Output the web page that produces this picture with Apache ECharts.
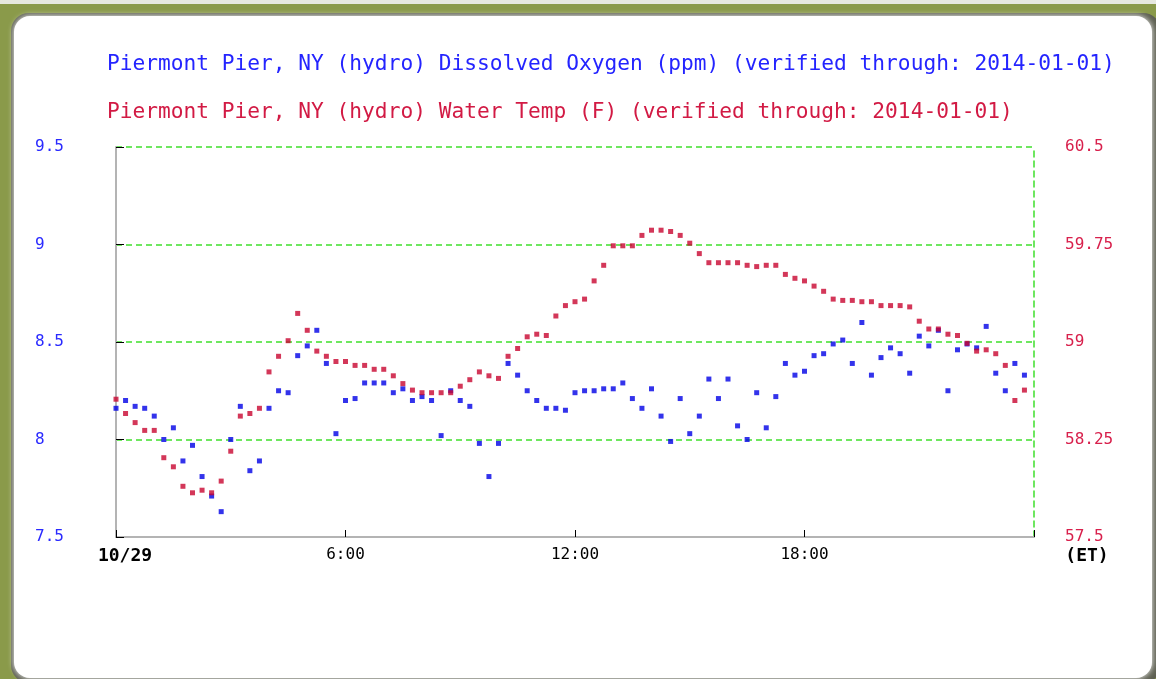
<!DOCTYPE html>
<html>
<head>
<meta charset="utf-8">
<script src="https://cdn.jsdelivr.net/npm/echarts@6/dist/echarts.min.js"></script>
<style>
html,body{margin:0;padding:0;background:#8a9a4a;}
#chart{width:1156px;height:679px;}
</style>
</head>
<body>
<div id="chart"></div>
<script>
const titleDO = 'Piermont Pier, NY (hydro) Dissolved Oxygen (ppm) (verified through: 2014-01-01)';
const titleTemp = 'Piermont Pier, NY (hydro) Water Temp (F) (verified through: 2014-01-01)';
const xTickLabels = {0: '10/29', 6: '6:00', 12: '12:00', 18: '18:00', 24: '(ET)'};
const rightTicks = [57.5, 58.25, 59, 59.75, 60.5];

// hours since 10/29 00:00 (ET), 15-minute samples
const hours = [0,0.25,0.5,0.75,1,1.25,1.5,1.75,2,2.25,2.5,2.75,3,3.25,3.5,3.75,
  4,4.25,4.5,4.75,5,5.25,5.5,5.75,6,6.25,6.5,6.75,7,7.25,7.5,7.75,
  8,8.25,8.5,8.75,9,9.25,9.5,9.75,10,10.25,10.5,10.75,11,11.25,11.5,11.75,
  12,12.25,12.5,12.75,13,13.25,13.5,13.75,14,14.25,14.5,14.75,15,15.25,15.5,15.75,
  16,16.25,16.5,16.75,17,17.25,17.5,17.75,18,18.25,18.5,18.75,19,19.25,19.5,19.75,
  20,20.25,20.5,20.75,21,21.25,21.5,21.75,22,22.25,22.5,22.75,23,23.25,23.5,23.75];

const dissolvedOxygen = [
  8.16,8.20,8.17,8.16,8.12,8.00,8.06,7.89,7.97,7.81,7.71,7.63,8.00,8.17,7.84,7.89,
  8.16,8.25,8.24,8.43,8.48,8.56,8.39,8.03,8.20,8.21,8.29,8.29,8.29,8.24,8.26,8.20,
  8.22,8.20,8.02,8.25,8.20,8.17,7.98,7.81,7.98,8.39,8.33,8.25,8.20,8.16,8.16,8.15,
  8.24,8.25,8.25,8.26,8.26,8.29,8.21,8.16,8.26,8.12,7.99,8.21,8.03,8.12,8.31,8.21,
  8.31,8.07,8.00,8.24,8.06,8.22,8.39,8.33,8.35,8.43,8.44,8.49,8.51,8.39,8.60,8.33,
  8.42,8.47,8.44,8.34,8.53,8.48,8.56,8.25,8.46,8.49,8.47,8.58,8.34,8.25,8.39,8.33];

const waterTemp = [
  58.56,58.45,58.38,58.32,58.32,58.11,58.04,57.89,57.84,57.86,57.84,57.93,58.16,58.43,58.45,58.49,
  58.77,58.89,59.01,59.22,59.09,58.93,58.89,58.85,58.85,58.82,58.82,58.79,58.79,58.74,58.68,58.63,
  58.61,58.61,58.61,58.61,58.66,58.71,58.77,58.74,58.72,58.89,58.95,59.04,59.06,59.05,59.20,59.28,
  59.31,59.33,59.47,59.59,59.74,59.74,59.74,59.82,59.86,59.86,59.85,59.82,59.76,59.68,59.61,59.61,
  59.61,59.61,59.59,59.58,59.59,59.59,59.52,59.49,59.47,59.43,59.39,59.33,59.32,59.32,59.31,59.31,
  59.28,59.28,59.28,59.27,59.16,59.10,59.10,59.06,59.05,58.99,58.93,58.94,58.91,58.82,58.55,58.63];

const doData = hours.map((h, i) => [h, dissolvedOxygen[i]]);
const tempData = hours.map((h, i) => [h, waterTemp[i]]);

const FONT = 'DejaVu Sans Mono';
const GREEN = '#3fe02c';
const chart = echarts.init(document.getElementById('chart'), null, {renderer: 'canvas'});
chart.setOption({
  animation: false,
  backgroundColor: '#8a9a4a',
  graphic: [
    {type: 'rect', z: -10, shape: {x: 0, y: 0, width: 1156, height: 4}, style: {fill: '#e6e8df'}},
    {type: 'rect', z: -9, shape: {x: 11, y: 13, width: 1150, height: 670, r: 18}, style: {fill: '#5e6052'}},
    {type: 'rect', z: -8, shape: {x: 14, y: 16, width: 1138, height: 662, r: 16},
      style: {fill: '#ffffff', shadowBlur: 6, shadowColor: 'rgba(255,255,255,1)'}}
  ],
  title: [
    {text: titleDO, left: 107, top: 52, padding: 0,
      textStyle: {fontFamily: FONT, fontSize: 21.2, fontWeight: 'normal', color: '#2424ff', lineHeight: 24}},
    {text: titleTemp, left: 107, top: 100, padding: 0,
      textStyle: {fontFamily: FONT, fontSize: 21.2, fontWeight: 'normal', color: '#d21a44', lineHeight: 24}}
  ],
  grid: {left: 116, right: 122, top: 147, bottom: 142},
  xAxis: {
    type: 'value', min: 0, max: 24, interval: 6,
    axisLine: {show: true, onZero: false, lineStyle: {color: '#b4b4b4', width: 2}},
    axisTick: {show: true, inside: true, length: 7, lineStyle: {color: '#000', width: 1}},
    splitLine: {show: false},
    axisLabel: {
      margin: 10, showMinLabel: true, showMaxLabel: true,
      fontFamily: FONT, fontSize: 16, color: '#000',
      formatter: function (v) {
        const t = xTickLabels[v];
        if (v === 0) return '{d|' + t + '}';
        if (v === 24) return '{e|' + t + '}';
        return t;
      },
      rich: {
        d: {fontFamily: FONT, fontSize: 18, fontWeight: 'bold', color: '#000', padding: [0, 0, 0, 18]},
        e: {fontFamily: FONT, fontSize: 18, fontWeight: 'bold', color: '#000', padding: [0, 0, 0, 106]}
      }
    }
  },
  yAxis: [
    {
      type: 'value', min: 7.5, max: 9.5, interval: 0.5, position: 'left',
      axisLine: {show: true, lineStyle: {color: '#b4b4b4', width: 2}},
      axisTick: {show: true, inside: true, length: 8, lineStyle: {color: '#000', width: 1}},
      splitLine: {show: true, lineStyle: {color: GREEN, width: 1.5, type: [6, 4]}},
      axisLabel: {align: 'left', margin: 81, fontFamily: FONT, fontSize: 16, color: '#2a2aff'}
    },
    {
      type: 'value', min: 57.5, max: 60.5, position: 'right',
      axisLine: {show: true, lineStyle: {color: GREEN, width: 1.5, type: [6, 4]}},
      axisTick: {show: false},
      splitLine: {show: false},
      axisLabel: {customValues: rightTicks, align: 'left', margin: 31, fontFamily: FONT, fontSize: 16, color: '#d8204c',
        formatter: function (v) { return String(v); }}
    }
  ],
  series: [
    {name: 'Dissolved Oxygen', type: 'scatter', yAxisIndex: 0, data: doData,
      symbol: 'rect', symbolSize: 5, itemStyle: {color: '#0000e6'}, z: 2},
    {name: 'Water Temp', type: 'scatter', yAxisIndex: 1, data: tempData,
      symbol: 'rect', symbolSize: 5, itemStyle: {color: '#c80530'}, z: 3}
  ]
});
</script>
</body>
</html>
